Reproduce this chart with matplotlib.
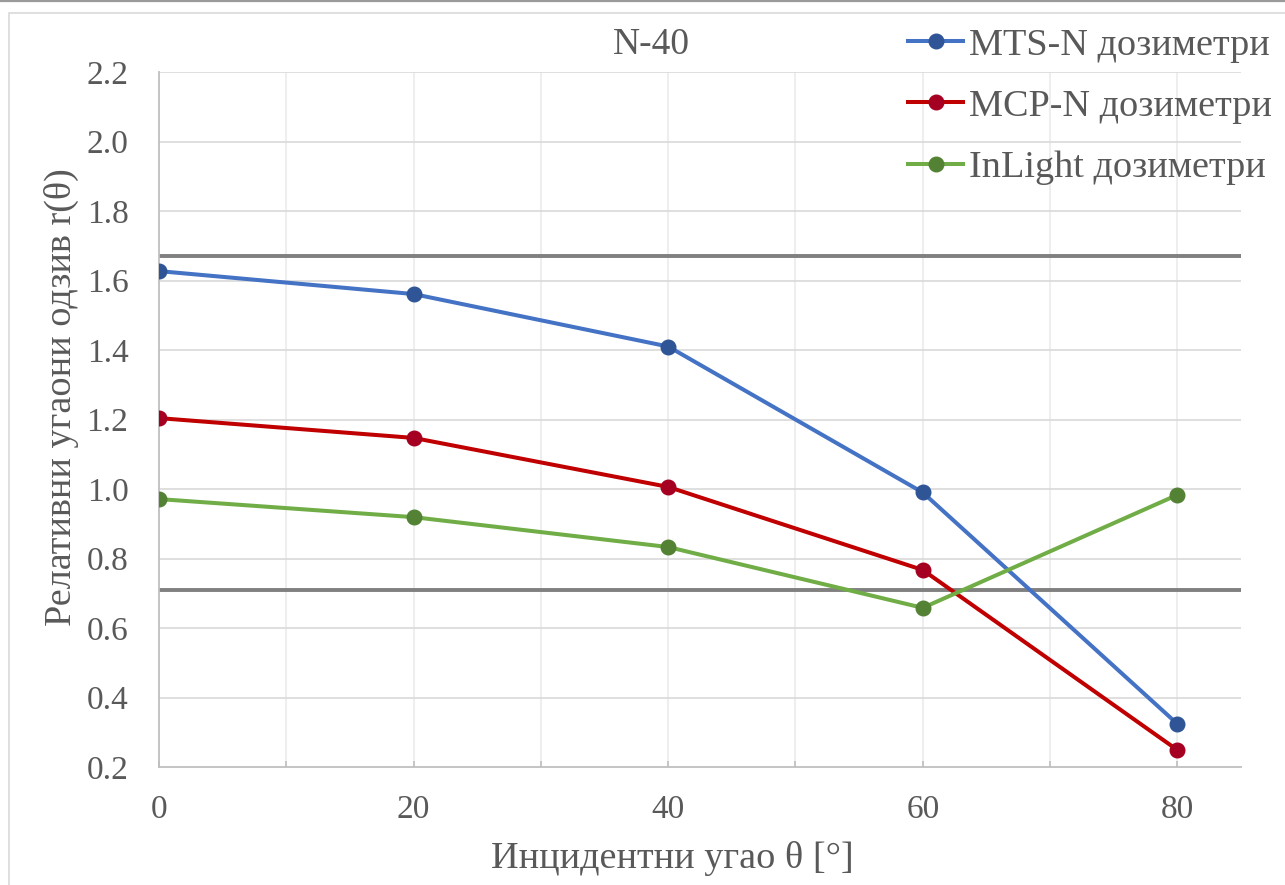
import matplotlib.pyplot as plt
from matplotlib.patches import Rectangle
from matplotlib.lines import Line2D

# incidence angles and relative angular response for each dosimeter type
angles = [0, 20, 40, 60, 80]
mts_n = [1.627, 1.561, 1.410, 0.990, 0.324]
mcp_n = [1.204, 1.147, 1.006, 0.767, 0.249]
inlight = [0.971, 0.919, 0.833, 0.658, 0.983]
limits = [0.71, 1.67]

series_names = ['MTS-N дозиметри', 'MCP-N дозиметри', 'InLight дозиметри']
line_colors = ['#4472C4', '#C00000', '#70AD47']
marker_colors = ['#2F5597', '#A50021', '#548235']

txt = '#595959'
plt.rcParams['font.family'] = ['Liberation Serif', 'DejaVu Serif']

fig = plt.figure(figsize=(12.85, 8.85), dpi=100)
W, H = 1285, 885

# outer chart frame
fig.add_artist(Line2D([0, 1], [1 - 1 / H, 1 - 1 / H], transform=fig.transFigure,
                      color='#9A9A9A', lw=1.6))
fig.add_artist(Rectangle((9 / W, -0.05), 1.2, 1 - 13 / H + 0.05, transform=fig.transFigure,
                         fill=False, edgecolor='#D9D9D9', lw=1.2))

ax = fig.add_axes([159 / W, 1 - 767 / H, (1241 - 159) / W, (767 - 72) / H])

for y in [0.4, 0.6, 0.8, 1.0, 1.2, 1.4, 1.6, 1.8, 2.0, 2.2]:
    ax.axhline(y, color='#D9D9D9', lw=1.2, zorder=1)
for x in range(10, 90, 10):
    ax.axvline(x, color='#EBEBEB', lw=1.2, zorder=0.9)

for y in limits:
    ax.axhline(y, color='#808080', lw=2.8, zorder=2)

for vals, name, lc, mc in zip([mts_n, mcp_n, inlight], series_names, line_colors, marker_colors):
    ax.plot(angles, vals, color=lc, lw=2.9, marker='o', markersize=10.5,
            markerfacecolor=mc, markeredgecolor=mc, label=name, zorder=3)

ax.set_xlim(0, 85)
ax.set_ylim(0.2, 2.2)
ax.set_xticks(angles)
ax.set_xticks([10, 30, 50, 70], minor=True)
ax.set_yticks([0.2, 0.4, 0.6, 0.8, 1.0, 1.2, 1.4, 1.6, 1.8, 2.0, 2.2])
ax.set_yticklabels(['%.1f' % v for v in ax.get_yticks()])

for s in ['top', 'right']:
    ax.spines[s].set_visible(False)
for s in ['left', 'bottom']:
    ax.spines[s].set_color('#BFBFBF')
    ax.spines[s].set_linewidth(1.3)
    ax.spines[s].set_zorder(2.5)

ax.tick_params(axis='x', which='both', direction='in', length=4.5, width=1.2,
               color='#BFBFBF', labelsize=24, labelcolor=txt, pad=20)
ax.tick_params(axis='y', length=0, labelsize=24, labelcolor=txt, pad=22)

fig.text(651 / W, 1 - 45 / H, 'N-40', ha='center', va='center', fontsize=27, color=txt)
fig.text(672 / W, 1 - 858 / H, 'Инцидентни угао θ [°]', ha='center', va='center',
         fontsize=27.5, color=txt)
fig.text(61 / W, 1 - 397 / H, 'Релативни угаони одзив r(θ)', ha='center', va='center',
         rotation=90, fontsize=27.5, color=txt)

leg = ax.legend(loc='upper left', bbox_to_anchor=(908 / W, 1 - 28 / H),
                bbox_transform=fig.transFigure, frameon=False, fontsize=27.5,
                borderpad=0, borderaxespad=0, handlelength=1.45, handletextpad=0.15,
                labelspacing=0.69)
for t in leg.get_texts():
    t.set_color(txt)

fig.savefig('out.png', dpi=100)
